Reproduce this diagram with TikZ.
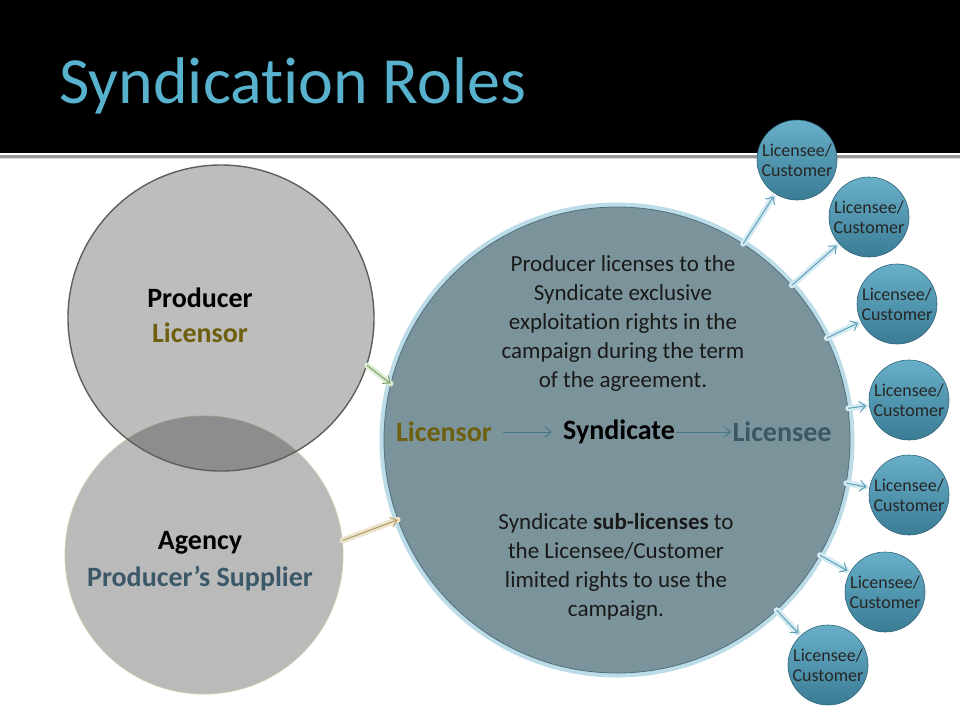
\documentclass[tikz,border=0pt]{standalone}
\usepackage{fontspec}
\setmainfont{Carlito}[Ligatures=NoCommon]
\usepackage{xcolor}
\usetikzlibrary{positioning,arrows.meta}

\definecolor{titleblue}{HTML}{58B2CE}
\definecolor{mainfill}{HTML}{7B939A}
\definecolor{mainedge}{HTML}{50707C}
\definecolor{mainglow}{HTML}{BCDDE8}
\definecolor{lctop}{HTML}{68AFC8}
\definecolor{lcbot}{HTML}{3B7C95}
\definecolor{lcedge}{HTML}{2F6378}
\definecolor{arrowblue}{HTML}{5E9FB7}
\definecolor{glowblue}{HTML}{D3EAF2}
\definecolor{licensorolive}{HTML}{6E5F0E}
\definecolor{supplierslate}{HTML}{3A5868}
\definecolor{licenseeslate}{HTML}{3C5663}
\definecolor{producerfill}{HTML}{313131}
\definecolor{produceredge}{HTML}{5F5F58}
\definecolor{agencyfill}{HTML}{BABABA}
\definecolor{agencyedge}{HTML}{CFC7AE}
\definecolor{greenarrow}{HTML}{7F9F6C}
\definecolor{greenglow}{HTML}{DCEBD0}
\definecolor{tanarrow}{HTML}{B09C68}
\definecolor{tanglow}{HTML}{ECE3CB}

\begin{document}
\begin{tikzpicture}[x=1pt,y=-1pt,
	licensee/.style={circle,draw=lcedge,line width=0.6pt,minimum size=80pt,inner sep=0pt,
		top color=lctop,bottom color=lcbot,align=center,
		font=\fontsize{18}{20}\selectfont,text=black!85},
	rolelabel/.style={inner sep=0pt,font=\bfseries\fontsize{28}{34}\selectfont},
	maintext/.style={align=center,inner sep=0pt,font=\fontsize{23}{29}\selectfont,text=black!90},
	glowline/.style={line width=6pt,glowblue,line cap=round},
	outarrow/.style={-{Straight Barb[length=6pt,width=11pt]},arrowblue,line width=1pt},
	flowarrow/.style={-{Straight Barb[length=6pt,width=10pt]},arrowblue!75!black,line width=1pt}]

	\useasboundingbox (0,0) rectangle (960,720);

	% header band
	\fill[black] (0,0) rectangle (960,153);
	\fill[black!40] (0,155) rectangle (960,157.5);
	\fill[black!15] (0,157.5) rectangle (960,159);
	\node[anchor=base west,inner sep=0pt,text=titleblue,font=\fontsize{66}{72}\selectfont] (title) at (59,103) {Syndication Roles};

	% left circles
	\node[circle,minimum size=278pt,inner sep=0pt,fill=agencyfill,draw=agencyedge,line width=0.8pt] (agency) at (204,555) {};
	\node[circle,minimum size=306pt,inner sep=0pt,fill=producerfill,fill opacity=0.32,draw=produceredge,draw opacity=1,line width=1.4pt] (producer) at (221,318) {};
	\node[rolelabel] (prodname) at (200,298) {Producer};
	\node[rolelabel,text=licensorolive] (prodrole) at (200,333) {Licensor};
	\node[rolelabel] (agencyname) at (200,543) {Agency};
	\node[rolelabel,text=supplierslate] (agencyrole) at (200,579) {Producer’s Supplier};

	% syndicate circle
	\node[circle,minimum size=466pt,inner sep=0pt,fill=mainfill,draw=mainedge,line width=0.8pt,
		preaction={draw=mainglow,line width=9pt}] (main) at (617,440) {};

	% arrows into the syndicate
	\draw[glowline,greenglow] (producer.342) -- (main.166);
	\draw[-{Straight Barb[length=6pt,width=10pt]},greenarrow,line width=1pt] (producer.342) -- (main.166);
	\draw[glowline,tanglow] (agency.6) -- (main.200);
	\draw[-{Straight Barb[length=6pt,width=10pt]},tanarrow,line width=1pt] (agency.6) -- (main.200);

	% texts in the syndicate
	\node[maintext] (grant) at (623,323) {Producer licenses to the\\Syndicate exclusive\\exploitation rights in the\\campaign during the term\\of the agreement.};
	\node[maintext] (sublic) at (616,567) {Syndicate \textbf{sub-licenses} to\\the Licensee/Customer\\limited rights to use the\\campaign.};

	\node[rolelabel,text=licensorolive] (licr) at (444,432) {Licensor};
	\node[rolelabel,text=black] (synd) at (619,432) {Syndicate};
	\node[rolelabel,text=licenseeslate] (licee) at (782,432) {Licensee};
	\draw[flowarrow,shorten <=11pt,shorten >=11pt] (licr) -- (synd);
	\draw[flowarrow,shorten <=1pt,shorten >=1pt] (synd) -- (licee);

	% licensee circles
	\node[licensee] (lc1) at (797,160) {Licensee/\\Customer};
	\node[licensee] (lc2) at (869,217) {Licensee/\\Customer};
	\node[licensee] (lc3) at (897,304) {Licensee/\\Customer};
	\node[licensee] (lc4) at (909,400) {Licensee/\\Customer};
	\node[licensee] (lc5) at (909,495) {Licensee/\\Customer};
	\node[licensee] (lc6) at (885,592) {Licensee/\\Customer};
	\node[licensee] (lc7) at (828,665) {Licensee/\\Customer};

	% connections to licensees
	\draw[glowline,shorten >=4pt] (main) -- (lc1);
	\draw[glowline,shorten >=4pt] (main) -- (lc2);
	\draw[glowline,shorten >=4pt] (main) -- (lc3);
	\draw[glowline,shorten >=4pt] (main) -- (lc4);
	\draw[glowline,shorten >=4pt] (main) -- (lc5);
	\draw[glowline,shorten >=4pt] (main) -- (lc6);
	\draw[glowline,shorten >=4pt] (main) -- (lc7);
	\draw[outarrow,shorten >=3pt] (main) -- (lc1);
	\draw[outarrow,shorten >=3pt] (main) -- (lc2);
	\draw[outarrow,shorten >=3pt] (main) -- (lc3);
	\draw[outarrow,shorten >=3pt] (main) -- (lc4);
	\draw[outarrow,shorten >=3pt] (main) -- (lc5);
	\draw[outarrow,shorten >=3pt] (main) -- (lc6);
	\draw[outarrow,shorten >=3pt] (main) -- (lc7);

\end{tikzpicture}
\end{document}
